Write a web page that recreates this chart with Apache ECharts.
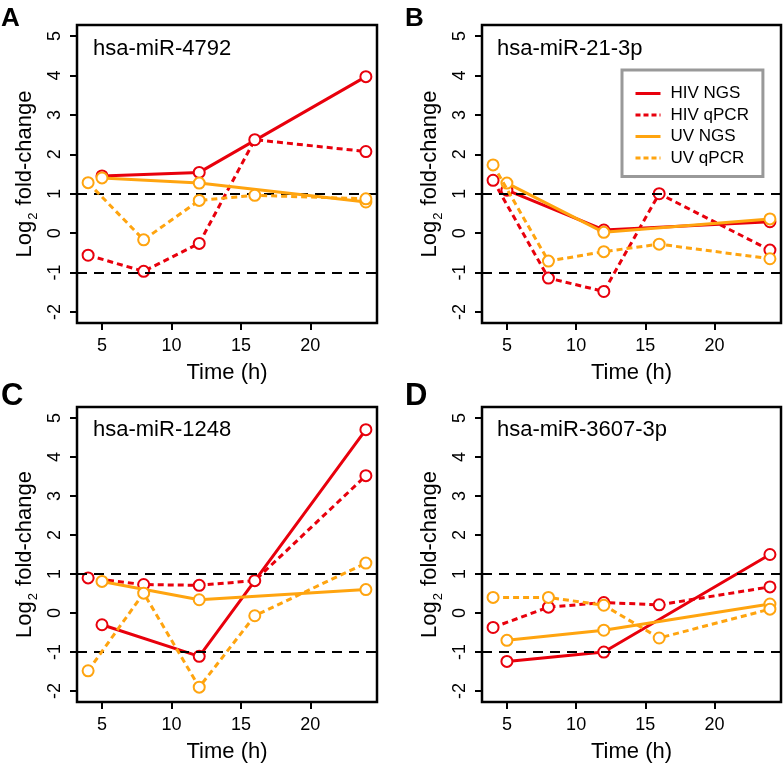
<!DOCTYPE html>
<html><head><meta charset="utf-8">
<script src="https://cdn.jsdelivr.net/npm/echarts@6/dist/echarts.min.js"></script>
<style>html,body{margin:0;padding:0;background:#fff}#c{width:783px;height:764px}</style>
</head><body><div id="c"></div>
<script>
const panelLetters = ['A', 'B', 'C', 'D'];
const panelTitles = ['hsa-miR-4792', 'hsa-miR-21-3p', 'hsa-miR-1248', 'hsa-miR-3607-3p'];
const seriesNames = ['HIV NGS', 'HIV qPCR', 'UV NGS', 'UV qPCR'];
const timesNGS = [5, 12, 24];
const timesQPCR = [4, 8, 12, 16, 24];
const xTicks = [5, 10, 15, 20];
const yTicks = [-2, -1, 0, 1, 2, 3, 4, 5];
const thresholds = [1, -1];

const hivNgsA = [1.45, 1.54, 3.97];
const hivQpcrA = [-0.56, -0.97, -0.26, 2.37, 2.07];
const uvNgsA = [1.40, 1.27, 0.79];
const uvQpcrA = [1.28, -0.17, 0.83, 0.96, 0.87];

const hivNgsB = [1.09, 0.08, 0.29];
const hivQpcrB = [1.34, -1.14, -1.48, 1.00, -0.43];
const uvNgsB = [1.27, 0.02, 0.36];
const uvQpcrB = [1.73, -0.71, -0.47, -0.28, -0.65];

const hivNgsC = [-0.30, -1.11, 4.70];
const hivQpcrC = [0.90, 0.73, 0.71, 0.83, 3.52];
const uvNgsC = [0.81, 0.34, 0.60];
const uvQpcrC = [-1.48, 0.51, -1.90, -0.07, 1.28];

const hivNgsD = [-1.24, -1.00, 1.50];
const hivQpcrD = [-0.37, 0.15, 0.27, 0.21, 0.67];
const uvNgsD = [-0.70, -0.44, 0.23];
const uvQpcrD = [0.40, 0.40, 0.20, -0.64, 0.10];

const panelData = [
  [hivNgsA, hivQpcrA, uvNgsA, uvQpcrA],
  [hivNgsB, hivQpcrB, uvNgsB, uvQpcrB],
  [hivNgsC, hivQpcrC, uvNgsC, uvQpcrC],
  [hivNgsD, hivQpcrD, uvNgsD, uvQpcrD]
];

const FONT = '"Liberation Sans", Arial, sans-serif';
const RED = '#e8000c';
const ORANGE = '#ffa40f';
const colors = [RED, RED, ORANGE, ORANGE];
const dashed = [false, true, false, true];
const DASH = [6, 4];

const grids = [
  {left: 77, top: 25, width: 300, height: 298},
  {left: 482, top: 25, width: 299, height: 298},
  {left: 77, top: 407, width: 300, height: 297},
  {left: 482, top: 407, width: 299, height: 297}
].map(g => Object.assign(g, {show: true, borderColor: '#000', borderWidth: 2.5, backgroundColor: 'transparent'}));

const xAxes = grids.map((g, i) => ({
  gridIndex: i, type: 'value', min: 3.2, max: 24.8,
  axisLine: {show: false, onZero: false}, splitLine: {show: false},
  axisTick: {show: true, customValues: xTicks, length: 7, lineStyle: {color: '#000', width: 2}},
  axisLabel: {customValues: xTicks, fontSize: 18, color: '#000', margin: 14, fontFamily: FONT},
  name: 'Time (h)', nameLocation: 'middle', nameGap: 39,
  nameTextStyle: {fontSize: 22, color: '#000', fontFamily: FONT}
}));

const yAxes = grids.map((g, i) => ({
  gridIndex: i, type: 'value', min: -2.28, max: 5.28,
  axisLine: {show: false, onZero: false}, splitLine: {show: false},
  axisTick: {show: true, customValues: yTicks, length: 7, lineStyle: {color: '#000', width: 2}},
  axisLabel: {customValues: yTicks, fontSize: 18, color: '#000', margin: 13, rotate: 90, fontFamily: FONT},
  name: '{a|Log}{s|2}{a| fold-change}', nameLocation: 'middle', nameGap: 37, nameRotate: 90,
  nameTextStyle: {
    color: '#000', fontFamily: FONT,
    rich: {
      a: {fontSize: 22, color: '#000', fontFamily: FONT, lineHeight: 30, verticalAlign: 'middle'},
      s: {fontSize: 13, color: '#000', fontFamily: FONT, lineHeight: 30, verticalAlign: 'bottom', padding: [0, 1, 0, 1]}
    }
  }
}));

const series = [];
panelData.forEach((arrs, i) => {
  arrs.forEach((vals, k) => {
    const times = (k % 2 === 0) ? timesNGS : timesQPCR;
    const s = {
      type: 'line', name: seriesNames[k], xAxisIndex: i, yAxisIndex: i,
      data: times.map((t, j) => [t, vals[j]]),
      symbol: 'emptyCircle', symbolSize: 11,
      lineStyle: {color: colors[k], width: 3, type: dashed[k] ? DASH : 'solid'},
      itemStyle: {color: colors[k], borderColor: colors[k], borderWidth: 3},
      emphasis: {disabled: true},
      z: 3 + k, animation: false
    };
    if (k === 0) {
      s.markLine = {
        silent: true, symbol: 'none', animation: false,
        label: {show: false},
        lineStyle: {color: '#000', type: [10, 7], width: 2},
        emphasis: {disabled: true},
        data: thresholds.map(v => ({yAxis: v}))
      };
    }
    series.push(s);
  });
});

const titles = [];
panelLetters.forEach((l, i) => {
  titles.push({
    text: l, left: (i % 2) ? 405 : 1, top: (i < 2) ? 6 : 381, padding: 0,
    textStyle: {fontSize: (i < 2) ? 26 : 31, fontWeight: 'bold', color: '#000', fontFamily: FONT}
  });
});
panelTitles.forEach((t, i) => {
  titles.push({
    text: t, left: (i % 2) ? 497 : 93, top: (i < 2) ? 38 : 419, padding: 0,
    textStyle: {fontSize: 22, fontWeight: 'normal', color: '#000', fontFamily: FONT}
  });
});

const chart = echarts.init(document.getElementById('c'), null, {renderer: 'canvas'});
chart.setOption({
  animation: false,
  backgroundColor: '#fff',
  title: titles,
  grid: grids,
  xAxis: xAxes,
  yAxis: yAxes,
  legend: {
    left: 622, top: 70, orient: 'vertical', selectedMode: false,
    backgroundColor: '#fff', borderColor: '#999', borderWidth: 3,
    padding: [15, 14, 10, 12],
    itemWidth: 25, itemHeight: 14, itemGap: 4.5,
    itemStyle: {opacity: 0},
    textStyle: {fontSize: 17, color: '#000', fontFamily: FONT, padding: [0, 0, 0, 5]},
    data: seriesNames.map((n, k) => ({
      name: n,
      lineStyle: {color: colors[k], width: 3, type: dashed[k] ? [5, 3] : 'solid'}
    }))
  },
  series: series
});
</script>
</body></html>
